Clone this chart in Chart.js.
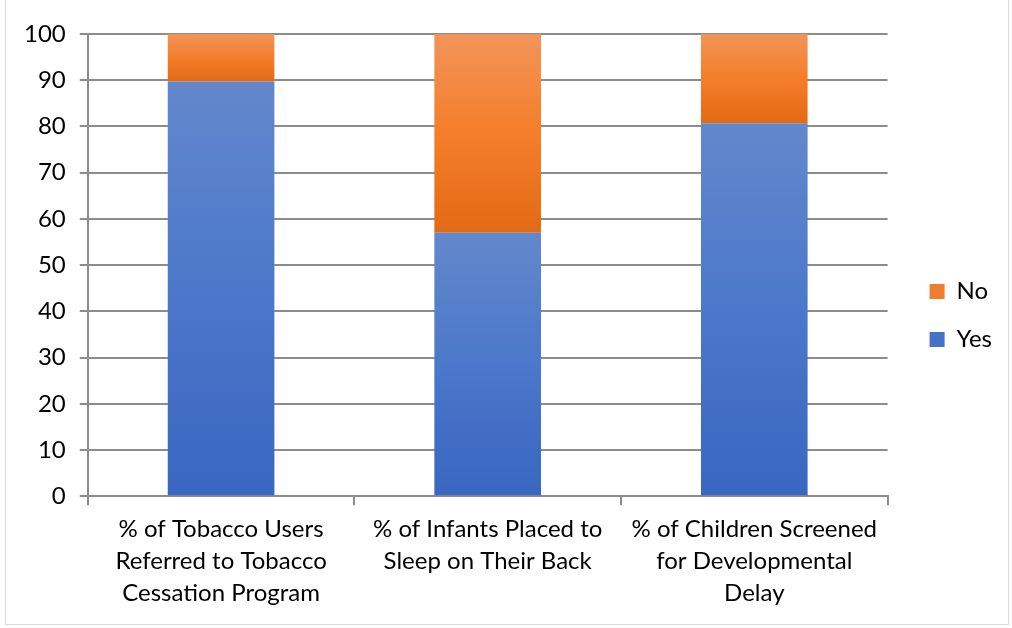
<!DOCTYPE html>
<html>
<head>
<meta charset="utf-8">
<script src="https://cdn.jsdelivr.net/npm/chart.js@4"></script>
<style>
  html, body { margin: 0; padding: 0; background: #fff; }
  #wrap { position: absolute; left: 5px; top: 0; width: 1004px; height: 625px; border: 1px solid #d9d9d9; border-top: none; box-sizing: border-box; }
  #box { position: absolute; left: 0; top: 0; width: 1012px; height: 628px; }
</style>
</head>
<body>
<div id="wrap"></div>
<div id="box"><canvas id="chart" width="1012" height="628"></canvas></div>
<script>
var categories = [
    ['% of Tobacco Users', 'Referred to Tobacco', 'Cessation Program'],
    ['% of Infants Placed to', 'Sleep on Their Back'],
    ['% of Children Screened', 'for Developmental', 'Delay']
];
var yesValues = [89.7, 57, 80.7];
var noValues = [10.3, 43, 19.3];
var yTicks = [0, 10, 20, 30, 40, 50, 60, 70, 80, 90, 100];

document.addEventListener("DOMContentLoaded", function() {
    var font = "Lato, 'Open Sans', sans-serif";

    // vertical gradient over one stacked segment
    function segGradient(stops, base) {
        return function(ctx) {
            var chart = ctx.chart;
            var y = chart.scales && chart.scales.y;
            if (!chart.chartArea || !y || ctx.dataIndex === undefined) return stops[1];
            var i = ctx.dataIndex;
            var lo = base ? base[i] : 0;
            var hi = lo + ctx.dataset.data[i];
            var top = y.getPixelForValue(hi), bottom = y.getPixelForValue(lo);
            if (!isFinite(top) || !isFinite(bottom) || top === bottom) return stops[1];
            var g = chart.ctx.createLinearGradient(0, top, 0, bottom);
            g.addColorStop(0, stops[0]);
            g.addColorStop(0.5, stops[1]);
            g.addColorStop(1, stops[2]);
            return g;
        };
    }

    // nudge the legend a bit right and up, like the original
    var legendShift = {
        id: 'legendShift',
        afterLayout: function(chart) {
            var lg = chart.legend;
            if (!lg) return;
            lg.left += 18; lg.right += 18;
            lg.top -= 10; lg.bottom -= 10;
        }
    };

    var ctx = document.getElementById('chart').getContext('2d');
    new Chart(ctx, {
        type: 'bar',
        data: {
            labels: categories,
            datasets: [{
                label: 'Yes',
                data: yesValues,
                backgroundColor: segGradient(['#6387CC', '#4B78CA', '#3966C0']),
                legendColor: '#4472C4'
            }, {
                label: 'No',
                data: noValues,
                backgroundColor: segGradient(['#F29459', '#F47E2A', '#E36A15'], yesValues),
                legendColor: '#ED7D31'
            }]
        },
        plugins: [legendShift],
        options: {
            responsive: false,
            animation: false,
            devicePixelRatio: 1,
            maintainAspectRatio: false,
            categoryPercentage: 0.4,
            barPercentage: 1,
            layout: { padding: { left: 10, right: 28, top: 34, bottom: 11 } },
            plugins: {
                tooltip: { enabled: false },
                legend: {
                    position: 'right',
                    reverse: true,
                    labels: {
                        font: { family: font, size: 24 },
                        color: '#000',
                        boxWidth: 15,
                        boxHeight: 15,
                        padding: 24,
                        generateLabels: function(chart) {
                            return chart.data.datasets.map(function(ds, i) {
                                return {
                                    text: ds.label,
                                    fillStyle: ds.legendColor,
                                    strokeStyle: ds.legendColor,
                                    lineWidth: 0,
                                    datasetIndex: i
                                };
                            });
                        }
                    }
                }
            },
            scales: {
                x: {
                    stacked: true,
                    grid: { display: true, drawOnChartArea: false, offset: true, color: '#8c8c8c', lineWidth: 2, tickLength: 9 },
                    border: { color: '#8c8c8c', width: 2 },
                    ticks: { font: { family: font, size: 24, lineHeight: 1.33 }, color: '#000', maxRotation: 0, padding: 8 }
                },
                y: {
                    stacked: true,
                    min: 0,
                    max: 100,
                    afterBuildTicks: function(axis) {
                        axis.ticks = yTicks.map(function(v) { return { value: v }; });
                    },
                    grid: { color: '#8c8c8c', lineWidth: 2, tickLength: 8 },
                    border: { color: '#8c8c8c', width: 2 },
                    ticks: { font: { family: font, size: 24 }, color: '#000', padding: 14 }
                }
            }
        }
    });
});
</script>
</body>
</html>
